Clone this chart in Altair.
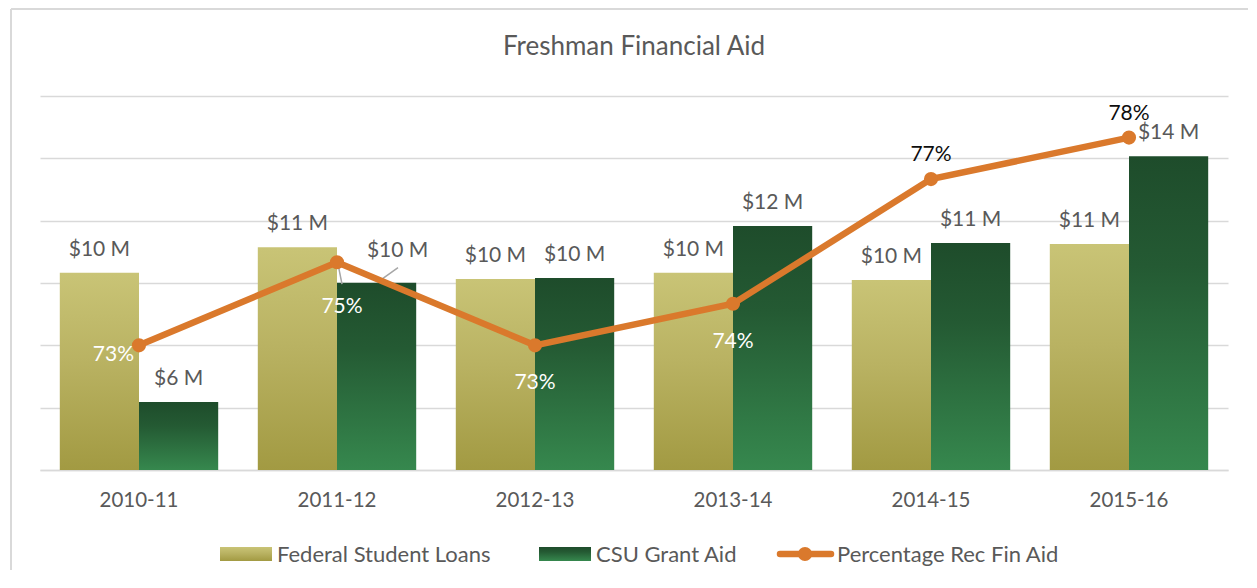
import altair as alt
import pandas as pd

# ---------------- data ----------------
title_text = "Freshman Financial Aid"
years = ["2010-11", "2011-12", "2012-13", "2013-14", "2014-15", "2015-16"]
federal_loans = [10.33, 11.15, 10.13, 10.33, 10.10, 11.25]   # $ millions
csu_grant = [6.18, 10.01, 10.16, 11.83, 11.28, 14.07]        # $ millions
pct_rec_aid = [73, 75, 73, 74, 77, 78]                        # percent
series_names = ["Federal Student Loans", "CSU Grant Aid", "Percentage Rec Fin Aid"]
money_ticks = [4, 6, 8, 10, 12, 14, 16]

bars_df = pd.DataFrame({
    "year": years * 2,
    "series": [series_names[0]] * len(years) + [series_names[1]] * len(years),
    "value": federal_loans + csu_grant,
})
bars_df["label"] = bars_df["value"].map(lambda v: f"${round(v)} M")
line_df = pd.DataFrame({"year": years, "pct": pct_rec_aid})
line_df["label"] = line_df["pct"].map(lambda p: f"{p}%")
one = pd.DataFrame({"k": [0]})

# ---------------- style ----------------
FONT = "Lato"
GRAY = "#595959"
GRID = "#d9d9d9"
ORANGE = "#da792c"

grad_fed = alt.LinearGradient(
    gradient="linear", x1=0, x2=0, y1=0, y2=1,
    stops=[alt.GradientStop(color="#c9c476", offset=0),
           alt.GradientStop(color="#b9b262", offset=0.45),
           alt.GradientStop(color="#a29a42", offset=1)])
grad_csu = alt.LinearGradient(
    gradient="linear", x1=0, x2=0, y1=0, y2=1,
    stops=[alt.GradientStop(color="#1e4c2b", offset=0),
           alt.GradientStop(color="#245a33", offset=0.35),
           alt.GradientStop(color="#36884e", offset=1)])

x_enc = alt.X("year:N", sort=years,
              scale=alt.Scale(domain=years, paddingInner=0.2, paddingOuter=0.1),
              axis=alt.Axis(title=None, labelAngle=0, labelFont=FONT, labelFontSize=20.5,
                            labelColor=GRAY, labelPadding=20, ticks=False,
                            domainColor=GRID, domainWidth=1.5, grid=False))
y_money = alt.Y("value:Q",
                scale=alt.Scale(domain=[4, 16], nice=False, zero=False),
                axis=alt.Axis(title=None, labels=False, ticks=False, domain=False,
                              values=money_ticks, gridColor=GRID, gridWidth=1.5))
x_off = alt.XOffset("series:N",
                    scale=alt.Scale(domain=series_names[:2], paddingInner=0, paddingOuter=0))
y_pct = alt.Y("pct:Q", scale=alt.Scale(domain=[70, 79], nice=False, zero=False), axis=None)

base_bars = alt.Chart(bars_df)

fed_bars = base_bars.transform_filter(alt.datum.series == series_names[0]).mark_bar(
    color=grad_fed).encode(x=x_enc, xOffset=x_off, y=y_money, y2=alt.datum(4))
csu_bars = base_bars.transform_filter(alt.datum.series == series_names[1]).mark_bar(
    color=grad_csu).encode(x=x_enc, xOffset=x_off, y=y_money, y2=alt.datum(4))

special = (alt.datum.series == series_names[1]) & (alt.datum.year == years[1])
bar_labels = base_bars.transform_filter(~special).mark_text(
    font=FONT, fontSize=21, color=GRAY, baseline="alphabetic", dy=-17).encode(
    x=x_enc, xOffset=x_off, y=y_money, text="label:N")
bar_label_special = base_bars.transform_filter(special).mark_text(
    font=FONT, fontSize=21, color=GRAY, baseline="alphabetic", dy=-26, dx=21).encode(
    x=x_enc, xOffset=x_off, y=y_money, text="label:N")
bar_leader = base_bars.transform_filter(special).mark_rule(
    color="#a6a6a6", strokeWidth=1.5, xOffset=40, x2Offset=61, yOffset=0, y2Offset=-15).encode(
    x=x_enc, x2=alt.X2("year:N"), y=y_money, y2=alt.Y2("value:Q"))

money_group = alt.layer(fed_bars, csu_bars, bar_labels, bar_label_special, bar_leader)

base_line = alt.Chart(line_df)
line = base_line.mark_line(color=ORANGE, strokeWidth=6.5).encode(x=x_enc, y=y_pct)
pts = base_line.mark_point(filled=True, opacity=1, color=ORANGE, size=200).encode(x=x_enc, y=y_pct)

lbl_left = base_line.transform_filter(alt.FieldOneOfPredicate(field="year", oneOf=years[0:1])).mark_text(
    font=FONT, fontSize=21, color="white", align="right", baseline="alphabetic", dx=-5, dy=16).encode(
    x=x_enc, y=y_pct, text="label:N")
lbl_below1 = base_line.transform_filter(alt.FieldOneOfPredicate(field="year", oneOf=years[1:2])).mark_text(
    font=FONT, fontSize=21, color="white", align="center", baseline="alphabetic", dx=5, dy=51).encode(
    x=x_enc, y=y_pct, text="label:N")
lbl_below = base_line.transform_filter(alt.FieldOneOfPredicate(field="year", oneOf=years[2:4])).mark_text(
    font=FONT, fontSize=21, color="white", align="center", baseline="alphabetic", dy=44).encode(
    x=x_enc, y=y_pct, text="label:N")
lbl_above = base_line.transform_filter(alt.FieldOneOfPredicate(field="year", oneOf=years[4:6])).mark_text(
    font=FONT, fontSize=21, color="#0d0d0d", align="center", baseline="alphabetic", dy=-18).encode(
    x=x_enc, y=y_pct, text="label:N")
pct_leader = base_line.transform_filter(alt.FieldOneOfPredicate(field="year", oneOf=years[1:2])).mark_rule(
    color="#a6a6a6", strokeWidth=1.5, xOffset=1, x2Offset=5, yOffset=2, y2Offset=22).encode(
    x=x_enc, x2=alt.X2("year:N"), y=y_pct, y2=alt.Y2("pct:Q"))

pct_group = alt.layer(line, pct_leader, pts, lbl_left, lbl_below1, lbl_below, lbl_above)

# ---------------- frame, title, legend ----------------
base_one = alt.Chart(one)
border_top = base_one.mark_rule(color=GRID, strokeWidth=2).encode(
    x=alt.value(-29), x2=alt.value(1300), y=alt.value(-87))
border_left = base_one.mark_rule(color=GRID, strokeWidth=2).encode(
    x=alt.value(-29), y=alt.value(-87), y2=alt.value(600))
title = base_one.mark_text(font=FONT, fontSize=26, color=GRAY, align="center",
                           baseline="alphabetic", text=title_text).encode(
    x=alt.value(594), y=alt.value(-41))

leg_y = 458
LEG_FS = 22
sw1 = base_one.mark_rect(color=grad_fed).encode(
    x=alt.value(180), x2=alt.value(232), y=alt.value(leg_y - 7), y2=alt.value(leg_y + 7))
tx1 = base_one.mark_text(font=FONT, fontSize=LEG_FS, color=GRAY, align="left",
                         baseline="alphabetic", text=series_names[0]).encode(
    x=alt.value(237), y=alt.value(leg_y + 8))
sw2 = base_one.mark_rect(color=grad_csu).encode(
    x=alt.value(499), x2=alt.value(551), y=alt.value(leg_y - 7), y2=alt.value(leg_y + 7))
tx2 = base_one.mark_text(font=FONT, fontSize=LEG_FS, color=GRAY, align="left",
                         baseline="alphabetic", text=series_names[1]).encode(
    x=alt.value(556), y=alt.value(leg_y + 8))
ln3 = base_one.mark_rule(color=ORANGE, strokeWidth=6.5, strokeCap="round").encode(
    x=alt.value(740), x2=alt.value(791), y=alt.value(leg_y))
pt3 = base_one.mark_point(filled=True, opacity=1, color=ORANGE, size=200).encode(
    x=alt.value(765), y=alt.value(leg_y))
tx3 = base_one.mark_text(font=FONT, fontSize=LEG_FS, color=GRAY, align="left",
                         baseline="alphabetic", text=series_names[2]).encode(
    x=alt.value(797), y=alt.value(leg_y + 8))

chart = alt.layer(
    border_top, border_left, money_group, pct_group, title, sw1, tx1, sw2, tx2, ln3, pt3, tx3
).resolve_scale(y="independent").properties(
    width=1188, height=374,
    padding={"left": 32, "top": 88, "right": 20, "bottom": 100},
    autosize=alt.AutoSizeParams(type="none"),
    background="white",
).configure_view(strokeWidth=0)

chart.save("out.html", embed_options={"renderer": "svg", "actions": False})
